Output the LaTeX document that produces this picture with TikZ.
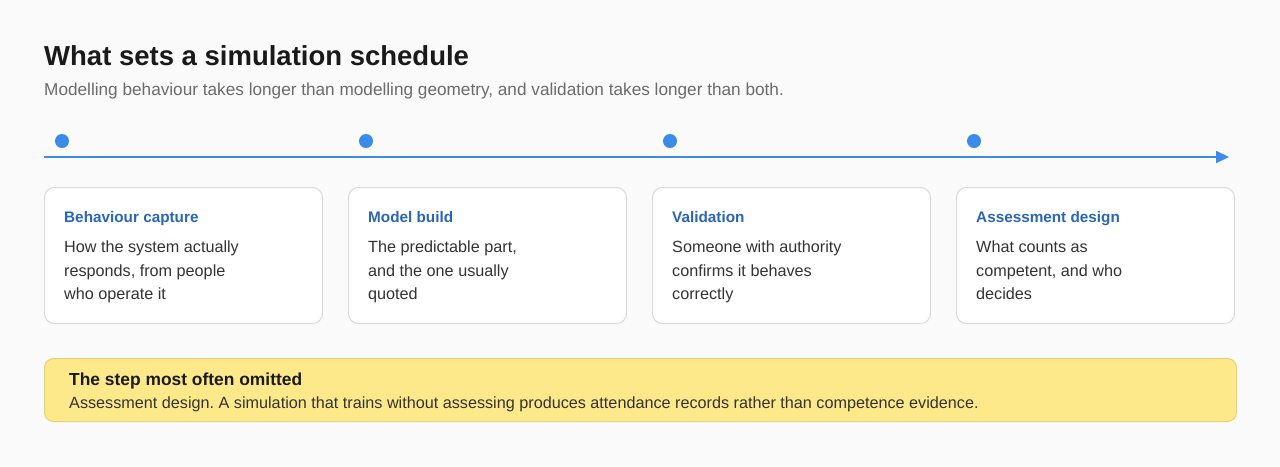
\documentclass[tikz,border=0pt]{standalone}
\usepackage{fontspec}
\setmainfont{Liberation Sans}
\usetikzlibrary{arrows.meta}
\frenchspacing
\definecolor{bg}{HTML}{FAFAFA}
\definecolor{ttl}{HTML}{1A1A1A}
\definecolor{sub}{HTML}{6B6B6B}
\definecolor{body}{HTML}{333333}
\definecolor{tl}{HTML}{3B8BEB}
\definecolor{ctitle}{HTML}{2A66B8}
\definecolor{cborder}{HTML}{D9D9D9}
\definecolor{yfill}{HTML}{FEE98A}
\definecolor{yborder}{HTML}{E8D176}
\tikzset{
  card/.style={draw=cborder, line width=1pt, fill=white, rounded corners=10pt, minimum width=278pt, minimum height=136pt, inner sep=0pt, anchor=north west},
  ctitle/.style={anchor=base west, inner sep=0pt, text=ctitle, font=\fontsize{15.3}{17}\selectfont\bfseries},
  cbody/.style={anchor=base west, inner sep=0pt, text=body, font=\fontsize{16.2}{19}\selectfont},
  dot/.style={circle, fill=tl, minimum size=14pt, inner sep=0pt},
}
\begin{document}
\begin{tikzpicture}[x=1pt,y=-1pt]
\fill[bg] (0,0) rectangle (1280,466);
\useasboundingbox (0,0) rectangle (1280,466);
\node[anchor=base west, inner sep=0pt, text=ttl, font=\fontsize{27.5}{30}\selectfont\bfseries] (title) at (44,65.7) {What sets a simulation schedule};
\node[anchor=base west, inner sep=0pt, text=sub, font=\fontsize{17.2}{20}\selectfont] (subtitle) at (44,95) {Modelling behaviour takes longer than modelling geometry, and validation takes longer than both.};
\coordinate (tls) at (44,157);
\coordinate (tle) at (1229,157);
\draw[tl, line width=2pt, -{Triangle[length=13pt,width=12pt]}] (tls) -- (tle);
\foreach \i/\x in {1/62,2/366,3/670,4/974} {\node[dot] (d\i) at (\x,141) {};}
\foreach \i/\x/\t/\la/\lb/\lc in {
 1/44/Behaviour capture/How the system actually/{responds, from people}/who operate it,
 2/348/Model build/{The predictable part,}/and the one usually/quoted,
 3/652/Validation/Someone with authority/confirms it behaves/correctly,
 4/956/Assessment design/What counts as/{competent, and who}/decides} {
  \node[card] (c\i) at (\x,187) {};
  \node[ctitle] (ct\i) at (\x+20,222.3) {\t};
  \node[cbody] (cb\i a) at (\x+20,252.7) {\la};
  \node[cbody] (cb\i b) at (\x+20,276) {\lb};
  \node[cbody] (cb\i c) at (\x+20,299.3) {\lc};
}
\node[draw=yborder, line width=1pt, fill=yfill, rounded corners=9pt, minimum width=1192pt, minimum height=63pt, inner sep=0pt, anchor=north west] (note) at (44,358) {};
\node[anchor=base west, inner sep=0pt, text=ttl, font=\fontsize{17.4}{19}\selectfont\bfseries] (notet) at (69,385) {The step most often omitted};
\node[anchor=base west, inner sep=0pt, text=body, font=\fontsize{16.2}{19}\selectfont] (noteb) at (69,408.3) {Assessment design. A simulation that trains without assessing produces attendance records rather than competence evidence.};
\end{tikzpicture}
\end{document}
